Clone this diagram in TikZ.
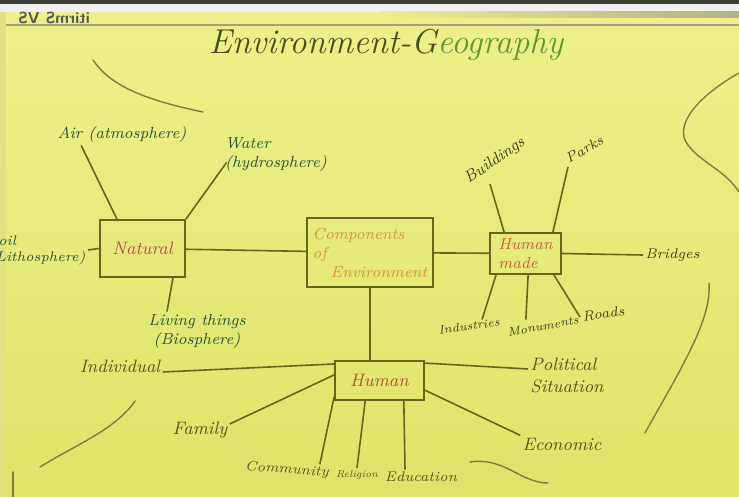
\documentclass[tikz,border=0pt]{standalone}
\usepackage{tikz}
\definecolor{papertop}{RGB}{238,240,138}
\definecolor{paperbottom}{RGB}{222,228,104}
\definecolor{darkedge}{RGB}{60,62,50}
\definecolor{inkline}{RGB}{95,104,28}
\definecolor{natink}{RGB}{38,82,58}
\definecolor{hmink}{RGB}{50,62,28}
\definecolor{humink}{RGB}{80,86,30}
\definecolor{natcol}{RGB}{196,70,92}
\definecolor{compcol}{RGB}{214,146,72}
\definecolor{hmcol}{RGB}{198,96,62}
\definecolor{humcol}{RGB}{176,82,62}
\definecolor{titleink}{RGB}{68,78,30}
\definecolor{geogreen}{RGB}{96,150,52}

\begin{document}
\begin{tikzpicture}[x=0.5pt,y=-0.5pt,
  topic/.style={draw=inkline,line width=0.9pt,inner sep=0pt,font=\itshape\small},
  leaf/.style={inner sep=1pt,align=center,font=\itshape\footnotesize},
  link/.style={draw=inkline,line width=0.8pt},
  doodle/.style={draw=inkline!85,line width=0.7pt,line cap=round}]

\useasboundingbox (0,0) rectangle (739,497);
\clip (0,0) rectangle (739,497);
\shade[top color=papertop,bottom color=paperbottom] (0,0) rectangle (739,497);
\fill[darkedge] (0,0) rectangle (739,4);
\fill[black!6] (0,4) rectangle (739,12);
\shade[left color=papertop,right color=gray!55!papertop] (380,12) rectangle (739,18);
\fill[black!6!papertop] (0,12) rectangle (6,497);
\draw[gray!70!papertop,line width=0.6pt] (6,25) -- (739,25);
\node[font=\sffamily\bfseries\footnotesize,text=darkedge!85] (stamp) at (54,18) {\scalebox{-1}[1]{itirmS VS}};

\node[font=\itshape\LARGE,text=titleink] (title) at (386,45) {Environment-G\textcolor{geogreen}{eography}};

% boxes
\node[topic,minimum width=42.5pt,minimum height=28.5pt,text=natcol] (natural) at (142.5,248.5) {Natural};
\node[topic,minimum width=63pt,minimum height=34.5pt,align=left,text=compcol,font=\itshape\footnotesize] (comp) at (370,252.5) {Components\\of\\\hspace*{9pt}Environment};
\node[topic,minimum width=35.5pt,minimum height=20.5pt,align=left,text=hmcol,font=\itshape\footnotesize] (hmade) at (525.5,253.5) {Human\\made};
\node[topic,minimum width=44.5pt,minimum height=19.5pt,text=humcol] (human) at (379.5,380.5) {Human};

% natural
\node[leaf,text=natink] (air) at (122,135) {Air (atmosphere)};
\node[leaf,text=natink,align=left] (water) at (276,155) {Water\\(hydrosphere)};
\node[leaf,text=natink,align=left,anchor=east,font=\itshape\scriptsize] (soil) at (88,250) {Soil\\(Lithosphere)};
\node[leaf,text=natink] (living) at (197,331) {Living things\\(Biosphere)};

% human made
\node[leaf,text=hmink,rotate=35,anchor=south west] (bldg) at (470,190) {Buildings};
\node[leaf,text=hmink,rotate=30,anchor=south west,font=\itshape\scriptsize] (parks) at (568,167) {Parks};
\node[leaf,text=hmink,anchor=west,font=\itshape\scriptsize] (bridges) at (643,255) {Bridges};
\node[leaf,text=hmink,rotate=8,font=\itshape\fontsize{6}{7}\selectfont] (indus) at (469,326) {Industries};
\node[leaf,text=hmink,rotate=10,font=\itshape\fontsize{6}{7}\selectfont] (monum) at (543,326) {Monuments};
\node[leaf,text=hmink,rotate=8,anchor=west,font=\itshape\scriptsize] (roads) at (580,317) {Roads};

% human
\node[leaf,text=humink,font=\itshape\small] (indiv) at (120,366) {Individual};
\node[leaf,text=humink,font=\itshape\small] (family) at (200,430) {Family};
\node[leaf,text=humink,rotate=-4,font=\itshape\scriptsize] (commun) at (287,470) {Community};
\node[leaf,text=humink,font=\itshape\tiny] (relig) at (357,475) {Religion};
\node[leaf,text=humink,font=\itshape\scriptsize] (educ) at (421,477) {Education};
\node[leaf,text=humink,align=left,font=\itshape\small] (polit) at (567,375) {Political\\Situation};
\node[leaf,text=humink,font=\itshape\small] (econ) at (562,444) {Economic};

\draw[link] (natural) -- (comp);
\draw[link] (comp) -- (hmade);
\draw[link] (comp.south) -- (comp.south |- human.north);

\draw[link] (natural.131) -- ([xshift=13pt]air.south west);
\draw[link] (natural.north east) -- ([shift={(2pt,6pt)}]water.south west);
\draw[link] (natural.west) -- (soil.east);
\draw[link] (natural.-44) -- ([xshift=-15pt]living.north);

\draw[link] (hmade.135) -- ([shift={(10pt,3pt)}]bldg.south west);
\draw[link] (hmade.38) -- (parks.south west);
\draw[link] (hmade.east) -- (bridges.west);
\draw[link] (hmade.216) -- ([xshift=7pt]indus.north);
\draw[link] (hmade.-83) -- ([xshift=-8pt]monum.north);
\draw[link] (hmade.-37) -- (roads.west);

\draw[link] (human.160) -- ([yshift=-3pt]indiv.east);
\draw[link] (human.173) -- ([yshift=3pt]family.east);
\draw[link] (human.200) -- ([xshift=-6pt]commun.north east);
\draw[link] (human.-125) -- (relig.north);
\draw[link] (human.-40) -- ([xshift=-8pt]educ.north);
\draw[link] (human.21) -- ([yshift=3pt]polit.west);
\draw[link] (human.-12) -- (econ.north west);

% pencil strokes on the sheet
\draw[doodle] (93,60) .. controls (108,82) and (135,98) .. (203,112);
\draw[doodle] (739,73) .. controls (700,95) and (672,125) .. (688,145) .. controls (700,162) and (725,170) .. (739,192);
\draw[doodle] (709,283) .. controls (712,320) and (680,370) .. (645,433);
\draw[doodle] (135,401) .. controls (115,430) and (75,445) .. (40,467);
\draw[doodle] (470,462) .. controls (495,458) and (512,472) .. (527,478) .. controls (536,482) and (542,483) .. (548,483);
\draw[doodle] (13,472) -- (13,497);
\end{tikzpicture}
\end{document}
